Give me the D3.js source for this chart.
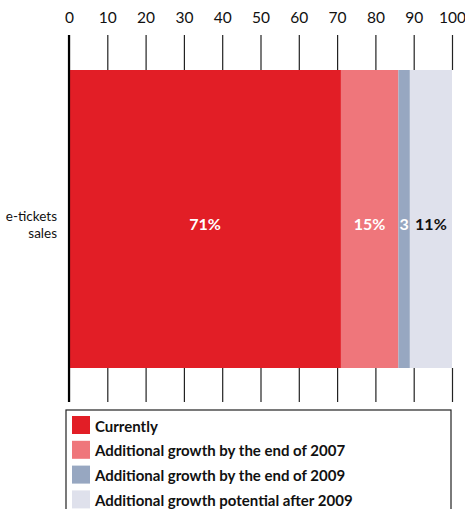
<!DOCTYPE html>
<html>
<head>
<meta charset="utf-8">
<script src="https://cdn.jsdelivr.net/npm/d3@7"></script>
<style>
  html, body { margin: 0; padding: 0; background: #fff; }
  svg { display: block; }
  text { font-family: Lato, "Open Sans", sans-serif; }
</style>
</head>
<body>
<svg id="chart" width="465" height="509"></svg>
<script>
// Share of sales, stacked left to right
const categories = ["e-tickets sales"];
const seriesNames = [
  "Currently",
  "Additional growth by the end of 2007",
  "Additional growth by the end of 2009",
  "Additional growth potential after 2009"
];
const seriesValues = [71, 15, 3, 11];
const segmentLabels = ["71%", "15%", "3", "11%"];
const tickValues = [0, 10, 20, 30, 40, 50, 60, 70, 80, 90, 100];

const colors = ["#e21e26", "#ef767b", "#97a7c1", "#dfe1ec"];
const labelColors = ["#ffffff", "#ffffff", "#ffffff", "#111111"];

const svg = d3.select("#chart");

const x = d3.scaleLinear().domain([0, 100]).range([69, 452]);
const y = d3.scaleBand().domain(categories).range([70, 368]).padding(0);

// stacked segments
const stackData = [Object.fromEntries(seriesNames.map((s, i) => [s, seriesValues[i]]))];
const stacked = d3.stack().keys(seriesNames)(stackData);

const segs = svg.append("g").selectAll("g")
  .data(stacked)
  .join("g");

segs.append("rect")
  .attr("x", d => x(d[0][0]))
  .attr("width", d => x(d[0][1]) - x(d[0][0]))
  .attr("y", y(categories[0]))
  .attr("height", y.bandwidth())
  .attr("fill", (d, i) => colors[i]);

segs.append("text")
  .attr("x", d => (x(d[0][0]) + x(d[0][1])) / 2)
  .attr("y", y(categories[0]) + y.bandwidth() / 2 + 11)
  .attr("text-anchor", "middle")
  .attr("font-weight", "bold")
  .attr("font-size", 16)
  .attr("fill", (d, i) => labelColors[i])
  .text((d, i) => segmentLabels[i]);

// top axis with labels
const topAxis = svg.append("g")
  .attr("transform", `translate(0,${y.range()[0]})`)
  .call(d3.axisTop(x).tickValues(tickValues).tickSize(35).tickPadding(12).tickFormat(d3.format("d")));
topAxis.select(".domain").remove();
topAxis.selectAll(".tick line").attr("stroke", "#222").attr("stroke-width", 1.2);
topAxis.selectAll(".tick text")
  .attr("font-family", "Lato, sans-serif")
  .attr("font-size", 15.5)
  .attr("fill", "#111");

// bottom ticks
const botAxis = svg.append("g")
  .attr("transform", `translate(0,${y.range()[1]})`)
  .call(d3.axisBottom(x).tickValues(tickValues).tickSize(34).tickFormat(""));
botAxis.select(".domain").remove();
botAxis.selectAll(".tick line").attr("stroke", "#222").attr("stroke-width", 1.2);

// baseline at zero
svg.append("line")
  .attr("x1", x(0)).attr("x2", x(0))
  .attr("y1", 35).attr("y2", 402)
  .attr("stroke", "#000").attr("stroke-width", 2.2);

// category label
const catLabel = svg.append("text")
  .attr("text-anchor", "end")
  .attr("font-size", 13.5)
  .attr("fill", "#111");
catLabel.append("tspan").attr("x", 57).attr("y", 221).text("e-tickets");
catLabel.append("tspan").attr("x", 57).attr("y", 238).text("sales");

// legend
const legend = svg.append("g");
legend.append("rect")
  .attr("x", 66).attr("y", 410)
  .attr("width", 385).attr("height", 110)
  .attr("fill", "none").attr("stroke", "#222").attr("stroke-width", 1.2);

const items = legend.selectAll("g.item")
  .data(seriesNames)
  .join("g")
  .attr("class", "item")
  .attr("transform", (d, i) => `translate(72,${416 + i * 24.8})`);
items.append("rect")
  .attr("width", 18).attr("height", 18)
  .attr("fill", (d, i) => colors[i]);
items.append("text")
  .attr("x", 23).attr("y", 15.5)
  .attr("font-size", 15).attr("font-weight", "bold")
  .attr("fill", "#111")
  .text(d => d);
</script>
</body>
</html>
